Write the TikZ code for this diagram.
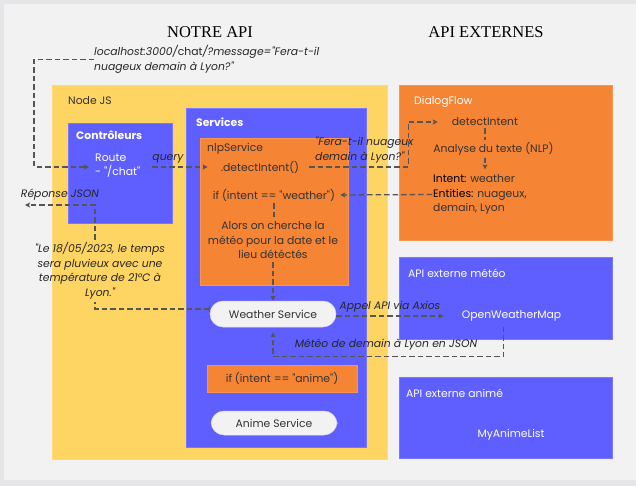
\documentclass[tikz,border=0pt]{standalone}
\usepackage{fontspec}
\setmainfont{Poppins}[Ligatures=TeXOff]
\newfontfamily\titlefont{Liberation Serif}
\usetikzlibrary{arrows.meta,calc,fit}
\definecolor{bgout}{HTML}{E6E6E9}
\definecolor{bgin}{HTML}{F2F2F2}
\definecolor{yel}{HTML}{FED462}
\definecolor{blu}{HTML}{5F5FFF}
\definecolor{ora}{HTML}{F58434}
\definecolor{dk}{HTML}{333333}
\definecolor{arr}{HTML}{555555}
\newcommand\bodysize{\fontsize{10.8}{14.5}\selectfont}
\begin{document}
\begin{tikzpicture}[x=1pt,y=-1pt,
  font=\bodysize,
  boxy/.style={fill=#1, draw=#1!85!white, line width=0.6pt, inner sep=0pt},
  pill/.style={fill=bgin, draw=blu!25!white, line width=0.5pt, rounded corners=13pt, inner sep=0pt, text=dk},
  txt/.style={inner sep=0pt, text=dk, align=left},
  wtxt/.style={inner sep=0pt, text=white, align=left},
  lab/.style={inner sep=0pt, text=black!85, font=\bodysize\itshape},
  titl/.style={inner sep=0pt, text=black, font=\titlefont\fontsize{16.5}{18}\selectfont},
  flow/.style={draw=arr, line width=1.3pt, dash pattern=on 5.5pt off 3pt},
  tip/.style={-{Stealth[length=5pt,width=5pt,inset=1pt]}}]
% background
\useasboundingbox (0,0) rectangle (636,486);
\fill[bgout] (0,0) rectangle (636,486);
\fill[bgin] (4,4) rectangle (636,480);
% titles
\node[titl] (t1) at (210,32) {NOTRE API};
\node[titl] (t2) at (486,32) {API EXTERNES};
% containers
\node[boxy=yel, fit={(52,85) (387,459)}] (nodejs) {};
\node[boxy=blu, fit={(68,123) (172,223)}] (ctrl) {};
\node[boxy=blu, fit={(186,108) (366,447)}] (services) {};
\node[boxy=ora, fit={(200,138) (348,285)}] (nlp) {};
\node[boxy=ora, fit={(207,365) (357,392)}] (ifa) {};
\node[boxy=ora, fit={(399,85) (612,240)}] (dialog) {};
\node[boxy=blu, fit={(399,257) (612,339)}] (meteo) {};
\node[boxy=blu, fit={(399,377) (612,458)}] (animeapi) {};
% container labels
\node[txt, anchor=west] (lnode) at (68,101) {Node JS};
\node[wtxt, anchor=west, font=\bodysize\bfseries] (lctrl) at (76,135) {Contrôleurs};
\node[wtxt, anchor=west, font=\bodysize\bfseries] (lserv) at (196,122) {Services};
\node[txt, anchor=west] (lnlp) at (207,149) {nlpService};
\node[wtxt, anchor=west] (ldialog) at (414,102) {DialogFlow};
\node[wtxt, anchor=west] (lmeteo) at (408,273) {API externe météo};
\node[wtxt, anchor=west] (lanime) at (406,393) {API externe animé};
% inner texts
\node[lab, anchor=west, align=left] (url) at (94,59.5) {localhost:3000/{\upshape chat}/?message="Fera-t-il\\nuageux demain à Lyon?"};
\node[wtxt, anchor=west] (route) at (95,165.5) {Route\\- "/chat"};
\node[txt] (detect) at (260,167) {.detectIntent()};
\node[txt] (ifw) at (274,195) {if (intent == "weather")};
\node[txt, align=center] (alors) at (273,240.5) {Alors on cherche la\\météo pour la date et le\\lieu détéctés};
\node[pill, minimum width=126pt, minimum height=26pt] (weather) at (273,314) {Weather Service};
\node[txt] (ifatxt) at (ifa.center) {if (intent == "anime")};
\node[pill, minimum width=126pt, minimum height=24pt] (animesrv) at (274,423) {Anime Service};
\node[txt] (dfdetect) at (485,122) {detectIntent};
\node[txt] (nlptext) at (493.5,149) {Analyse du texte (NLP)};
\node[txt, anchor=west] (intent) at (433,194.5) {{\color{black}Intent:} weather\\{\color{black}Entities:} nuageux,\\demain, Lyon};
\node[wtxt] (owm) at (511.5,316) {OpenWeatherMap};
\node[wtxt] (mal) at (511,435) {MyAnimeList};
% connector labels
\node[lab] (qlab) at (168,159) {query};
\node[lab, anchor=west, align=left] (feralab) at (315,150) {"Fera-t-il nuageux\\demain à Lyon?"};
\node[lab] (appel) at (390,307) {Appel API via Axios};
\node[lab] (mjson) at (386,345) {Météo de demain à Lyon en JSON};
\node[lab] (rep) at (60,195) {Réponse JSON};
\node[lab, align=center] (quote) at (100,271) {"Le 18/05/2023, le temps\\sera pluvieux avec une\\température de 21°C à\\Lyon."};
% helper coordinates
\coordinate (qx) at (95,0);
\coordinate (repend) at (25,205);
% connectors
\draw[flow,tip,shorten >=6pt] (url.west) -- ++(-60,0) |- (route.west |- detect);
\draw[flow,tip,shorten <=12pt,shorten >=13pt] (route.east |- detect) -- (detect.west);
\draw[flow,tip,shorten <=10pt,shorten >=14pt] (detect.east) -- ++(109,0) |- (dfdetect.west);
\draw[flow,shorten <=2pt,shorten >=2pt] (dfdetect.south) -- (dfdetect.south |- nlptext.north);
\draw[flow,tip,shorten <=2pt,shorten >=5pt] (dfdetect.south |- nlptext.south) -- (dfdetect.south |- intent.north);
\draw[flow,tip,shorten <=1pt,shorten >=5pt] (intent.west) -- (ifw.east);
\draw[flow,shorten <=2pt,shorten >=3pt] (ifw.south) -- (ifw.south |- alors.north);
\draw[flow,tip,shorten <=3pt] (alors.south -| weather.north) -- (weather.north);
\draw[flow,tip,shorten >=18pt] (weather.east |- owm.west) -- (owm.west);
\draw[flow,tip,shorten <=5pt,shorten >=5pt] ([xshift=-8pt]owm.south) -- ++(0,35) -| (weather.south);
\draw[flow,{Bar[width=6pt,line width=1pt]}-,shorten >=3pt] ([yshift=5pt]weather.west) -| (qx |- quote.south);
\draw[flow,tip,shorten <=3pt] (qx |- quote.north) |- (repend);
\end{tikzpicture}
\end{document}
